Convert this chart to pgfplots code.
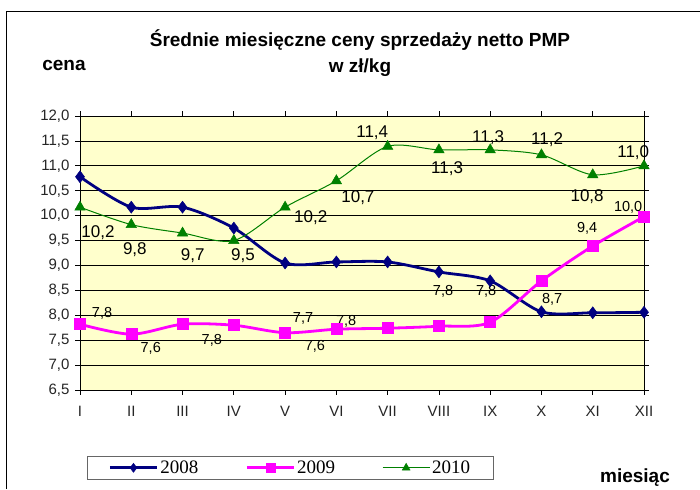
\documentclass[border=0pt]{standalone}
\usepackage{pgfplots}
\pgfplotsset{compat=1.18}
\usepackage{fontspec}
\setmainfont{Liberation Sans}
\newfontfamily\serif{Liberation Serif}
\definecolor{c08}{HTML}{000080}
\definecolor{c09}{HTML}{FF00FF}
\definecolor{c10}{HTML}{008000}
\definecolor{bgy}{HTML}{FFFFCC}
\begin{document}
\begin{tikzpicture}
\path[use as bounding box, fill=white] (0pt,0pt) rectangle (700pt,489pt);
\draw[black, line width=0.8pt] (6pt,0pt) -- (6pt,478pt) -- (700pt,478pt);
\node[font=\bfseries\fontsize{19}{22}\selectfont] at (360pt,449pt) {Średnie miesięczne ceny sprzedaży netto PMP};
\node[font=\bfseries\fontsize{19}{22}\selectfont] at (360pt,421pt) {w zł/kg};
\node[font=\bfseries\fontsize{19}{22}\selectfont] at (64pt,424pt) {cena};
\node[font=\bfseries\fontsize{19}{22}\selectfont] at (635pt,11pt) {miesiąc};
\begin{axis}[
  at={(80pt,99pt)}, anchor=south west, scale only axis,
  width=564pt, height=274pt,
  xmin=0, xmax=11, ymin=6.5, ymax=12,
  xtick={0,...,11},
  xticklabels={I,II,III,IV,V,VI,VII,VIII,IX,X,XI,XII},
  ytick={6.5,7,7.5,8,8.5,9,9.5,10,10.5,11,11.5,12},
  /pgf/number format/.cd, fixed, fixed zerofill, precision=1, use comma, assume math mode=true,
  /pgfplots/.cd,
  axis background/.style={fill=bgy},
  ymajorgrids, grid style={black, line width=0.7pt},
  axis line style={black, line width=0.8pt},
  tick style={black, line width=0.7pt},
  tick align=outside, major tick length=5pt,
  ticklabel style={font=\fontsize{15}{17}\selectfont, text=black!85},
  xticklabel style={yshift=-8pt},
  yticklabel style={xshift=-2pt},
  legend columns=3,
  legend image code/.code={\draw[mark repeat=2,mark phase=2, mark size=4.5pt] plot coordinates {(0pt,0pt) (23.5pt,0pt) (47pt,0pt)};},
  legend style={at={(0.0125,-0.24)}, anchor=north west, draw=black!60, line width=1pt,
     font=\serif\fontsize{19}{21}\selectfont, inner xsep=21pt, inner ysep=2.5pt,
     /tikz/every even column/.append style={column sep=45pt}},
  clip=false,
]
\addplot[c08, line width=2.8pt, smooth, tension=0.5, mark=diamond*, mark size=6pt, mark options={solid, fill=c08, line width=0.5pt}]
 coordinates {(0,10.78) (1,10.17) (2,10.17) (3,9.75) (4,9.05) (5,9.07) (6,9.07) (7,8.87) (8,8.69) (9,8.07) (10,8.05) (11,8.06)};
\addlegendentry{2008}
\addplot[c09, line width=2.8pt, smooth, tension=0.5, mark=square*, mark size=5.5pt, mark options={solid, fill=c09, line width=0.5pt}]
 coordinates {(0,7.82) (1,7.62) (2,7.82) (3,7.8) (4,7.65) (5,7.72) (6,7.74) (7,7.78) (8,7.86) (9,8.69) (10,9.39) (11,9.98)};
\addlegendentry{2009}
\addplot[c10, line width=1pt, smooth, tension=0.5, mark=triangle*, mark size=6pt, mark options={solid, fill=c10, line width=0.5pt}]
 coordinates {(0,10.17) (1,9.82) (2,9.65) (3,9.5) (4,10.17) (5,10.7) (6,11.39) (7,11.32) (8,11.32) (9,11.22) (10,10.82) (11,11.0)};
\addlegendentry{2010}
\begin{scope}[every node/.style={font=\fontsize{17}{19}\selectfont, text=black}]
\node at (axis cs:0.35,9.65) {10,2};
\node at (axis cs:1.07,9.31) {9,8};
\node at (axis cs:2.2,9.19) {9,7};
\node at (axis cs:3.18,9.19) {9,5};
\node at (axis cs:4.5,9.95) {10,2};
\node at (axis cs:5.42,10.37) {10,7};
\node at (axis cs:5.7,11.66) {11,4};
\node at (axis cs:7.16,10.94) {11,3};
\node at (axis cs:7.96,11.56) {11,3};
\node at (axis cs:9.11,11.52) {11,2};
\node at (axis cs:9.89,10.39) {10,8};
\node at (axis cs:10.79,11.26) {11,0};
\end{scope}
\begin{scope}[every node/.style={font=\fontsize{14.5}{16}\selectfont, text=black}]
\node at (axis cs:0.43,8.04) {7,8};
\node at (axis cs:1.38,7.34) {7,6};
\node at (axis cs:2.57,7.50) {7,8};
\node at (axis cs:4.35,7.94) {7,7};
\node at (axis cs:4.58,7.38) {7,6};
\node at (axis cs:5.19,7.88) {7,8};
\node at (axis cs:7.08,8.47) {7,8};
\node at (axis cs:7.92,8.47) {7,8};
\node at (axis cs:9.21,8.31) {8,7};
\node at (axis cs:9.89,9.75) {9,4};
\node at (axis cs:10.69,10.17) {10,0};
\end{scope}
\end{axis}
\end{tikzpicture}
\end{document}
